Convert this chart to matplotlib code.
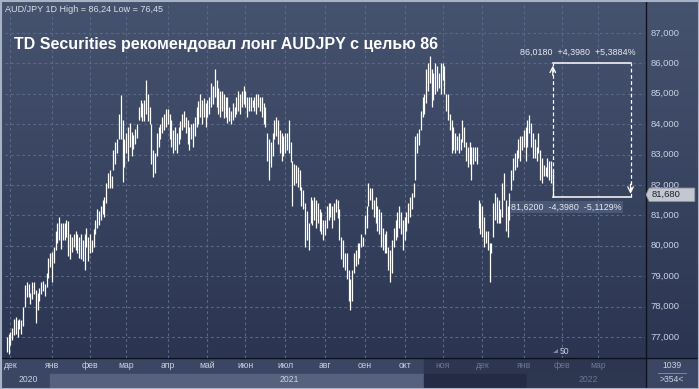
import numpy as np
import pandas as pd
import matplotlib
matplotlib.use("Agg")
import matplotlib.pyplot as plt
from matplotlib.patches import Rectangle, Polygon
from matplotlib.colors import LinearSegmentedColormap

# ---------------- data (daily bars, AUD/JPY) ----------------
start_date = "2020-11-27"
highs = [77.0, 77.1, 77.15, 77.3, 77.6, 77.65, 77.55, 77.6, 77.55, 78.0,
         78.7, 78.8, 78.75, 78.45, 78.8, 78.8, 78.55, 78.45, 78.6, 78.8,
         78.85, 78.75, 79.1, 79.6, 79.75, 79.8, 79.95, 80.5, 80.75, 80.95,
         80.75, 80.75, 80.75, 80.85, 80.8, 80.4, 80.3, 80.4, 80.5, 80.4,
         80.3, 80.4, 80.2, 80.4, 80.6, 80.3, 80.4, 80.2, 80.55, 80.85,
         81.2, 81.15, 81.3, 81.5, 81.6, 82.05, 82.4, 82.5, 82.3, 83.15,
         83.4, 83.5, 84.35, 84.95, 84.15, 83.5, 83.7, 83.9, 84.05, 83.75,
         83.65, 83.85, 84.0, 84.55, 84.8, 84.7, 84.8, 85.45, 85.0, 84.55,
         84.0, 83.15, 83.05, 83.7, 83.9, 84.0, 84.25, 84.35, 84.5, 84.5,
         84.35, 84.15, 83.8, 83.9, 83.7, 83.9, 84.1, 84.35, 84.45, 84.25,
         84.15, 83.9, 84.0, 84.05, 84.25, 84.55, 84.75, 85.0, 84.8, 84.85,
         84.7, 84.8, 84.9, 85.35, 85.25, 85.8, 85.45, 85.2, 85.1, 85.1,
         85.0, 84.9, 84.9, 84.55, 84.45, 84.7, 84.55, 84.9, 85.1, 85.0,
         85.1, 85.25, 85.1, 84.9, 84.9, 84.9, 84.8, 84.9, 85.0, 85.0,
         84.9, 84.9, 84.7, 84.55, 83.7, 83.5, 83.4, 83.7, 84.15, 84.25,
         84.15, 83.8, 83.7, 83.6, 83.7, 83.7, 84.15, 83.4, 82.8, 82.7,
         82.65, 82.6, 82.5, 81.95, 81.85, 81.4, 81.15, 80.75, 81.6, 81.5,
         81.6, 81.5, 81.4, 81.2, 81.1, 80.85, 80.85, 81.3, 81.4, 81.4,
         81.3, 81.4, 81.55, 81.5, 81.2, 80.3, 80.2, 79.75, 79.75, 79.2,
         78.9, 79.2, 79.75, 79.85, 80.1, 80.1, 80.4, 80.3, 81.0, 81.3,
         82.05, 81.9, 81.9, 81.5, 81.6, 81.3, 81.2, 81.1, 80.6, 80.4,
         80.5, 79.95, 79.85, 80.2, 80.6, 80.85, 81.1, 81.3, 81.1, 80.85,
         80.95, 81.1, 81.4, 81.6, 81.75, 82.05, 83.6, 83.7, 83.85, 84.45,
         84.9, 85.0, 85.8, 86.0, 86.24, 85.8, 85.7, 86.0, 85.9, 85.7,
         86.0, 86.0, 85.9, 85.0, 85.0, 84.35, 84.15, 83.9, 83.7, 83.6,
         83.7, 83.5, 84.15, 83.9, 83.4, 83.25, 83.4, 83.25, 83.25, 83.25,
         83.25, 81.5, 81.4, 81.3, 80.95, 80.5, 80.5, 80.1, 80.1, 81.4,
         81.75, 81.6, 81.5, 81.2, 82.05, 82.4, 81.5, 81.3, 81.75, 82.5,
         82.9, 83.05, 83.15, 83.5, 83.6, 83.6, 83.8, 83.9, 84.15, 84.3,
         84.05, 83.7, 83.5, 83.25, 83.7, 83.15, 82.9, 82.65, 82.6, 82.9,
         82.8, 82.8, 82.5]
lows = [76.5, 76.45, 76.75, 76.9, 77.05, 77.1, 77.0, 77.25, 77.1, 77.35,
        78.0, 78.3, 78.3, 78.1, 78.25, 78.4, 77.45, 77.9, 78.2, 78.4,
        78.5, 78.35, 78.65, 78.95, 79.3, 78.8, 79.45, 79.85, 80.1, 80.2,
        79.9, 80.2, 80.2, 80.3, 79.65, 79.55, 79.8, 79.95, 79.85, 79.75,
        79.6, 79.55, 79.5, 79.2, 79.95, 79.5, 79.75, 79.8, 79.95, 80.4,
        80.6, 80.7, 80.85, 81.05, 80.95, 81.4, 81.9, 81.9, 81.9, 82.5,
        82.7, 83.05, 83.5, 83.5, 82.1, 82.6, 83.05, 82.8, 83.25, 82.95,
        83.2, 83.35, 83.55, 84.15, 84.25, 84.1, 84.1, 84.35, 84.1, 84.0,
        82.7, 82.25, 82.4, 82.95, 83.25, 83.5, 83.7, 83.8, 83.9, 84.0,
        83.5, 83.25, 83.05, 83.15, 83.05, 83.35, 83.5, 83.8, 83.9, 83.7,
        83.35, 83.15, 83.5, 83.25, 83.6, 83.9, 84.0, 84.25, 84.0, 84.25,
        83.9, 84.25, 84.35, 84.55, 84.65, 84.9, 84.55, 84.35, 84.25, 84.45,
        84.2, 84.25, 84.05, 84.1, 84.0, 84.15, 84.25, 84.35, 84.45, 84.35,
        84.55, 84.65, 84.55, 84.25, 84.45, 84.45, 84.55, 84.45, 84.35, 84.55,
        84.45, 84.25, 84.0, 83.9, 82.8, 82.15, 82.6, 82.95, 83.5, 83.6,
        83.35, 83.05, 82.8, 82.95, 83.05, 83.15, 83.05, 82.75, 81.3, 82.0,
        82.05, 81.95, 81.85, 81.3, 81.2, 79.95, 80.2, 79.85, 80.75, 80.7,
        80.85, 80.6, 80.75, 80.5, 80.4, 80.2, 80.35, 80.6, 80.85, 80.95,
        80.6, 80.85, 81.1, 80.9, 80.2, 79.55, 79.3, 79.2, 78.9, 78.2,
        77.9, 78.2, 79.1, 79.35, 79.4, 79.6, 79.95, 80.0, 80.4, 80.6,
        81.3, 81.5, 81.2, 80.95, 80.75, 80.5, 80.4, 79.95, 79.85, 79.75,
        79.75, 79.2, 78.8, 79.1, 79.95, 80.2, 80.3, 80.6, 80.4, 79.85,
        80.2, 80.5, 80.75, 80.95, 81.2, 81.6, 82.15, 83.05, 83.3, 83.8,
        84.25, 84.35, 84.7, 85.1, 85.35, 84.55, 84.8, 85.0, 85.1, 85.2,
        85.0, 85.45, 85.0, 84.45, 84.15, 83.8, 83.05, 83.15, 83.05, 83.15,
        83.05, 83.15, 83.4, 83.25, 82.8, 82.6, 82.7, 82.15, 82.7, 82.8,
        82.7, 80.6, 80.4, 80.3, 79.95, 80.1, 79.85, 78.8, 79.75, 80.3,
        80.85, 80.75, 80.75, 80.75, 80.95, 81.5, 80.5, 80.3, 80.85, 81.85,
        82.15, 82.5, 82.6, 82.9, 82.8, 83.15, 83.25, 82.8, 83.25, 83.7,
        83.25, 82.9, 82.9, 82.8, 83.05, 82.15, 82.05, 82.3, 82.3, 82.25,
        82.15, 82.05, 81.62]

last_price = 81.68
target_price = 86.018
entry_price = 81.62
box_end_bar = 345
visible_bars = 354
price_ticks = [77, 78, 79, 80, 81, 82, 83, 84, 85, 86, 87]
month_names = ["янв", "фев", "мар", "апр", "май", "июн",
               "июл", "авг", "сен", "окт", "ноя", "дек"]
year_labels = ["2020", "2021", "2022"]
title = "TD Securities рекомендовал лонг AUDJPY с целью 86"
header = "AUD/JPY 1D High = 86,24 Low = 76,45"
top_note = "86,0180  +4,3980  +5,3884%"
bottom_note = "81,6200  -4,3980  -5,1129%"
last_label = "81,680"
bars_total_label = "1039"
bars_visible_label = ">354<"
volume_label = "50"

# ---------------- layout ----------------
W, H = 699, 389
PL, PR, PT, PB = 5, 645, 2, 358         # plot area in pixels
Y87, Y77 = 33.0, 337.0                   # pixel rows of 87 and 77
ppu = (Y77 - Y87) / 10.0
ytop = 87 + (Y87 - PT) / ppu
ybot = 87 - (PB - Y87) / ppu

plt.rcParams["font.family"] = ["Liberation Sans", "DejaVu Sans"]
fig = plt.figure(figsize=(W / 100, H / 100), dpi=100)

bg = fig.add_axes([0, 0, 1, 1])
bg.set_xlim(0, W)
bg.set_ylim(H, 0)
bg.axis("off")

grad = np.linspace(0, 1, 256).reshape(-1, 1)
cmap = LinearSegmentedColormap.from_list("g", ["#46536f", "#2b3552"])
bg.imshow(grad, extent=[0, W, PB, 0], aspect="auto", cmap=cmap, zorder=0)

bg.add_patch(Rectangle((0, PB), W, H - PB, color="#333e5b", zorder=1))

n = len(highs)
dates = pd.bdate_range(start_date, "2022-03-31")


def xpix(i):
    return PL + (i + 1) * (PR - PL) / visible_bars


# navigator shading
nav_split = 424
bg.add_patch(Rectangle((0, PB), nav_split, 16, color="#3a4664", zorder=1))
bg.add_patch(Rectangle((nav_split, PB), PR - nav_split, 16, color="#2c3650", zorder=1))
bg.add_patch(Rectangle((0, PB + 16), 50, 13, color="#3a4664", zorder=1))
bg.add_patch(Rectangle((50, PB + 16), nav_split - 50, 13, color="#55617d", zorder=1))
bg.add_patch(Rectangle((nav_split, PB + 16), 103, 13, color="#232c44", zorder=1))
bg.add_patch(Rectangle((nav_split + 103, PB + 16), PR - nav_split - 103, 13,
                       color="#2d3750", zorder=1))
bg.add_patch(Rectangle((PR + 1, PB), W - PR, H - PB, color="#3a4664", zorder=1))

bg.plot([PR + 1, PR + 1], [0, H], color="#0d1120", lw=1.0, zorder=5)
bg.plot([0, W], [PB, PB], color="#0d1120", lw=1.0, zorder=5)
bg.add_patch(Rectangle((0.5, 0.5), W - 1, H - 1, fill=False, ec="#a9b2c4", lw=1.5, zorder=6))

# ---------------- main chart ----------------
ax = fig.add_axes([PL / W, (H - PB) / H, (PR - PL) / W, (PB - PT) / H])
ax.set_xlim(-1, visible_bars - 1)
ax.set_ylim(ybot, ytop)
ax.patch.set_alpha(0)
ax.axis("off")

grid_kw = dict(color="#5b6886", lw=0.8, dashes=(2.5, 2.5), zorder=1)
for p in price_ticks:
    ax.axhline(p, **grid_kw)

month_start_idx = []
prev = None
for k, d in enumerate(dates):
    key = (d.year, d.month)
    if key != prev:
        if prev is not None:
            month_start_idx.append((k, d))
        prev = key
for k, d in month_start_idx:
    ax.axvline(k, **grid_kw)

idx = np.arange(n)
ax.vlines(idx, lows, highs, color="white", lw=0.9, zorder=3)

# target box
last_i = n - 1
ax.plot([last_i, box_end_bar], [target_price, target_price], color="white", lw=1.1, zorder=4)
ax.plot([last_i, box_end_bar], [entry_price, entry_price], color="white", lw=1.1, zorder=4)
ax.plot([last_i, last_i], [entry_price, target_price], color="white", lw=0.9,
        dashes=(3, 2), zorder=4)
ax.plot([box_end_bar, box_end_bar], [entry_price, target_price], color="white", lw=0.9,
        dashes=(3, 2), zorder=4)
ax.annotate("", xy=(last_i, target_price), xytext=(last_i, target_price - 0.5),
            arrowprops=dict(arrowstyle="->", color="white", lw=0.9), zorder=4)
ax.annotate("", xy=(box_end_bar, entry_price), xytext=(box_end_bar, entry_price + 0.5),
            arrowprops=dict(arrowstyle="->", color="white", lw=0.9), zorder=4)
ax.text(box_end_bar + 3, target_price + 0.2, top_note, ha="right", va="bottom",
        fontsize=6.4, color="#e6eaf2", zorder=5)
ax.text(last_i - 23, entry_price - 0.2, bottom_note, ha="left", va="top",
        fontsize=6.4, color="#e6eaf2", zorder=5,
        bbox=dict(boxstyle="square,pad=0.15", fc="#4d5a78", ec="none", alpha=0.9))

fig.text(5 / W, 1 - 10 / H, header, fontsize=6.5, color="#d8dde8", va="center", ha="left")
fig.text(14 / W, 1 - 45 / H, title, fontsize=11.5, fontweight="bold", color="white",
         va="center", ha="left")

# ---------------- right price axis ----------------
axr = fig.add_axes([(PR + 1) / W, (H - PB) / H, (W - PR - 1) / W, (PB - PT) / H])
axr.set_xlim(0, 1)
axr.set_ylim(ybot, ytop)
axr.axis("off")
axr.patch.set_alpha(0)
for p in price_ticks:
    axr.text(0.08, p, f"{p},000", fontsize=6.8, color="#c9d1e2", va="center", ha="left")
tag = Polygon([[0.0, last_price], [0.06, last_price + 0.22], [0.92, last_price + 0.22],
               [0.92, last_price - 0.22], [0.06, last_price - 0.22]],
              closed=True, fc="#c3c7cf", ec="#8d94a3", lw=0.6, zorder=5)
axr.add_patch(tag)
axr.text(0.1, last_price, last_label, fontsize=6.8, color="#1b2235", va="center",
         ha="left", zorder=6)

# ---------------- date strip texts ----------------
for k, d in month_start_idx:
    if k > 340:
        continue
    future = d >= pd.Timestamp("2021-11-01")
    bg.text(xpix(k), PB + 8, month_names[d.month - 1], fontsize=6.2,
            color="#6c7690" if future else "#cbd2e0", ha="center", va="center", zorder=7)
bg.text(28, PB + 22, year_labels[0], fontsize=6.2, color="#cbd2e0", ha="center", va="center", zorder=7)
bg.text(289, PB + 22, year_labels[1], fontsize=6.2, color="#cbd2e0", ha="center", va="center", zorder=7)
bg.text(588, PB + 22, year_labels[2], fontsize=6.2, color="#6c7690", ha="center", va="center", zorder=7)

bg.text(672, PB + 8, bars_total_label, fontsize=6.2, color="#cbd2e0", ha="center", va="center", zorder=7)
bg.plot([658, 686], [PB + 15, PB + 15], color="#8891a6", lw=0.6, zorder=7)
bg.text(672, PB + 22, bars_visible_label, fontsize=6.2, color="#cbd2e0", ha="center", va="center", zorder=7)

bg.add_patch(Polygon([[553, 353], [558, 349], [558, 353]], closed=True, fc="#7f88a0", zorder=7))
bg.text(560, 352, volume_label, fontsize=6.2, color="#cbd2e0", ha="left", va="center", zorder=7)

fig.savefig("out.png", dpi=100)
